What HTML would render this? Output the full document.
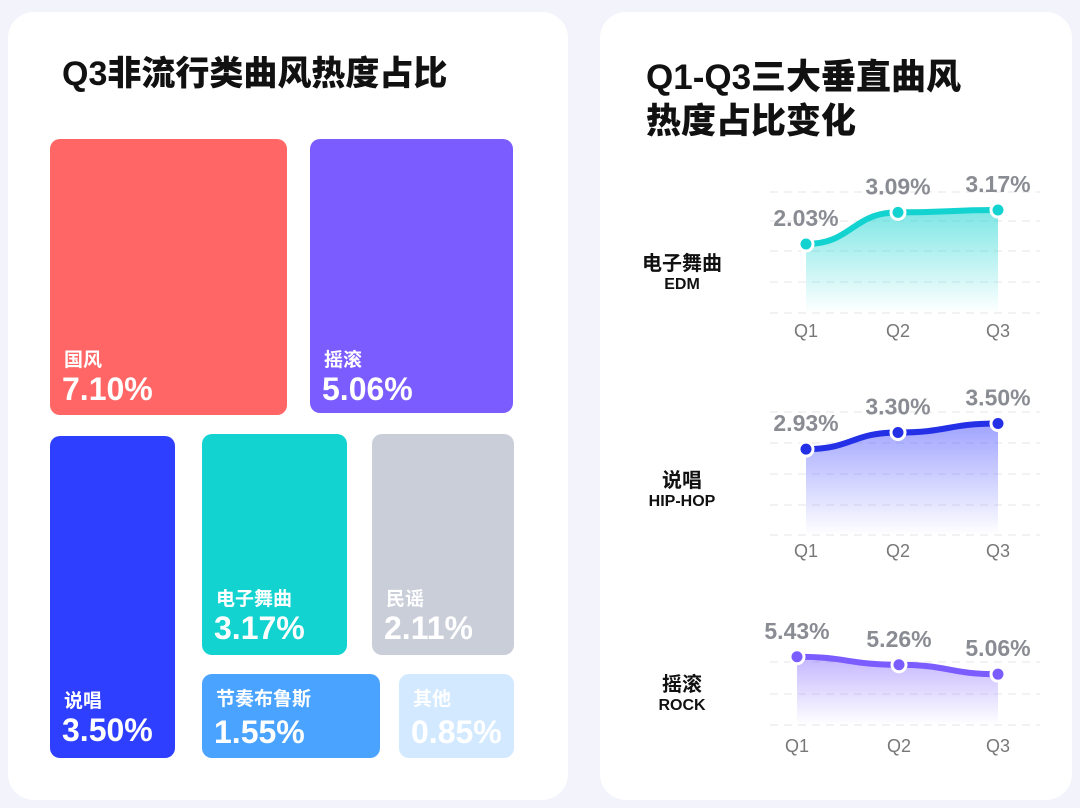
<!DOCTYPE html>
<html><head><meta charset="utf-8"><style>
body{margin:0;width:1080px;height:808px;background:#f3f3fb;position:relative;overflow:hidden;font-family:"Liberation Sans","Noto Sans CJK SC",sans-serif}
.card{position:absolute;background:#fff;border-radius:26px}
.t{position:absolute;border-radius:10px;color:#fff;font-weight:bold}
.t .l{position:absolute;left:14px;font-size:19px}
.t .v{position:absolute;left:12px;font-size:32px}
.h{position:absolute;font-weight:900;color:#111;line-height:44px}
.yl{position:absolute;width:110px;text-align:center;font-weight:bold;color:#111}
</style></head><body>
<div class="card" style="left:8px;top:12px;width:560px;height:788px"></div>
<div class="card" style="left:600px;top:12px;width:472px;height:788px"></div>
<div class="h" style="left:62px;top:52px;font-size:34px">Q3非流行类曲风热度占比</div>
<div class="h" style="left:646px;top:56px;font-size:35px">Q1-Q3三大垂直曲风<br>热度占比变化</div>

<div class="t" style="left:50px;top:139px;width:237px;height:276px;background:#ff6665"><span class="l" style="top:206px">国风</span><span class="v" style="top:232px">7.10%</span></div>
<div class="t" style="left:310px;top:139px;width:203px;height:274px;background:#7b5cff"><span class="l" style="top:206px">摇滚</span><span class="v" style="top:232px">5.06%</span></div>
<div class="t" style="left:50px;top:436px;width:125px;height:322px;background:#2f3fff"><span class="l" style="top:250px">说唱</span><span class="v" style="top:276px">3.50%</span></div>
<div class="t" style="left:202px;top:434px;width:145px;height:221px;background:#12d3d0"><span class="l" style="top:150px">电子舞曲</span><span class="v" style="top:176px">3.17%</span></div>
<div class="t" style="left:372px;top:434px;width:142px;height:221px;background:#c9ced8"><span class="l" style="top:150px">民谣</span><span class="v" style="top:176px">2.11%</span></div>
<div class="t" style="left:202px;top:674px;width:178px;height:84px;background:#4aa3ff"><span class="l" style="top:10px">节奏布鲁斯</span><span class="v" style="top:40px">1.55%</span></div>
<div class="t" style="left:399px;top:674px;width:115px;height:84px;background:#d3e9ff"><span class="l" style="top:10px">其他</span><span class="v" style="top:40px">0.85%</span></div>

<div class="yl" style="left:627px;top:247px"><div style="font-size:20px">电子舞曲</div><div style="font-size:16px">EDM</div></div>
<div class="yl" style="left:627px;top:464px"><div style="font-size:20px">说唱</div><div style="font-size:16px">HIP-HOP</div></div>
<div class="yl" style="left:627px;top:668px"><div style="font-size:20px">摇滚</div><div style="font-size:16px">ROCK</div></div>

<svg id="s" width="1080" height="808" style="position:absolute;left:0;top:0">
<defs>
<linearGradient id="g0" x1="0" y1="0" x2="0" y2="1"><stop offset="0" stop-color="#12d3d0" stop-opacity=".55"/><stop offset="1" stop-color="#12d3d0" stop-opacity="0"/></linearGradient>
<linearGradient id="g1" x1="0" y1="0" x2="0" y2="1"><stop offset="0" stop-color="#4048ff" stop-opacity=".5"/><stop offset="1" stop-color="#4048ff" stop-opacity="0"/></linearGradient>
<linearGradient id="g2" x1="0" y1="0" x2="0" y2="1"><stop offset="0" stop-color="#7b5cff" stop-opacity=".45"/><stop offset="1" stop-color="#7b5cff" stop-opacity="0"/></linearGradient>
</defs>
</svg>
<script>
const categories=["Q1","Q2","Q3"];
const edmValues=[2.03,3.09,3.17];
const hiphopValues=[2.93,3.30,3.50];
const rockValues=[5.43,5.26,5.06];
const svg=document.getElementById('s');const NS='http://www.w3.org/2000/svg';
function mk(t,a){const e=document.createElementNS(NS,t);for(const k in a)e.setAttribute(k,a[k]);svg.appendChild(e);return e;}
const charts=[
 {vals:edmValues,color:'#12d3d0',g:'g0',xs:[806,898,998],zero:304.5,k:29.8,base:313,grid:[192,221,251,282,313],lab:330,name:'edm'},
 {vals:hiphopValues,color:'#2430e6',g:'g1',xs:[806,898,998],zero:581,k:45,base:535,grid:[412,443,474,505,535],lab:550,name:'hiphop'},
 {vals:rockValues,color:'#7b5cff',g:'g2',xs:[797,899,998],zero:912,k:47,base:725,grid:[662,694,725],lab:745,name:'rock'}];
charts.forEach(c=>{
 const y=v=>c.zero-v*c.k;
 c.grid.forEach(gy=>{const l=mk('line',{x1:770,x2:1040,y1:gy,y2:gy,stroke:'#e6e6ea','stroke-dasharray':'8 6'});
 
 });
 const pts=c.vals.map((v,i)=>[c.xs[i],y(v)]);
 let d='M'+pts[0][0]+','+pts[0][1];
 for(let i=1;i<pts.length;i++){const p=pts[i-1],q=pts[i],mx=(p[0]+q[0])/2;d+=` C${mx},${p[1]} ${mx},${q[1]} ${q[0]},${q[1]}`;}
 const area=mk('path',{d:d+` L${pts[2][0]},${c.base} L${pts[0][0]},${c.base}Z`,fill:`url(#${c.g})`});
 
 
 const line=mk('path',{d:d,fill:'none',stroke:c.color,'stroke-width':6,'stroke-linecap':'round'});
 
 
 pts.forEach((p,i)=>{
  const dot=mk('circle',{cx:p[0],cy:p[1],r:7,fill:c.color,stroke:'#fff','stroke-width':3});
  
  
  const t=mk('text',{x:p[0],y:p[1]-18,'text-anchor':'middle','font-size':23,'font-weight':'bold',fill:'#8a8c93'});
  t.textContent=c.vals[i].toFixed(2)+'%';
  
  
  const a=mk('text',{x:p[0],y:c.lab+7,'text-anchor':'middle','font-size':18,fill:'#777'});
  a.textContent=categories[i];
  
  
 });
});
</script>
</body></html>
